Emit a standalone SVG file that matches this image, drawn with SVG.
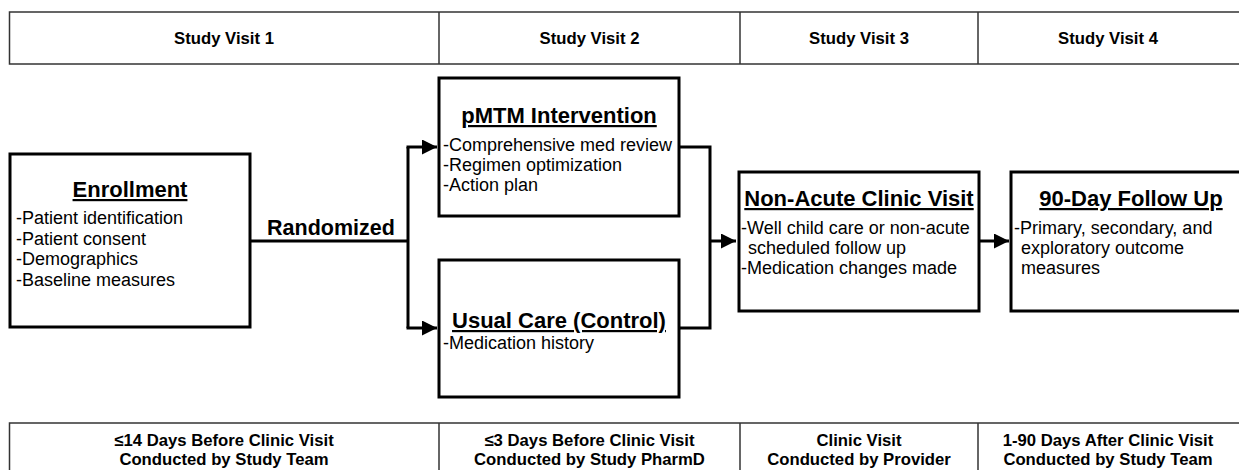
<svg xmlns="http://www.w3.org/2000/svg" width="1239" height="470" viewBox="0 0 1239 470">
<style>
.tbl{fill:#fff;stroke:#333;stroke-width:1.5}
.hdr{font-family:"Liberation Sans",Arial,sans-serif;font-weight:bold;font-size:16.7px;fill:#000;text-anchor:middle}
.box{fill:#fff;stroke:#000;stroke-width:3}
.ttl{font-family:"Liberation Sans",Arial,sans-serif;font-weight:bold;font-size:22px;fill:#000;text-anchor:middle;text-decoration:underline}
.body{font-family:"Liberation Sans",Arial,sans-serif;font-size:18px;fill:#000}
.conn{fill:none;stroke:#000;stroke-width:3}
.lbl{font-family:"Liberation Sans",Arial,sans-serif;font-weight:bold;font-size:21.5px;fill:#000;text-anchor:middle}
</style>
<defs>
<marker id="ah" viewBox="0 0 10 10" refX="10" refY="5" markerWidth="6.5" markerHeight="5" markerUnits="strokeWidth" orient="auto">
<path d="M0,0 L10,5 L0,10 Z" fill="#000"/>
</marker>
</defs>

<g id="header">
<rect class="tbl" x="9.5" y="12" width="1235" height="52"/>
<line class="tbl" x1="439" y1="12" x2="439" y2="64"/>
<line class="tbl" x1="740" y1="12" x2="740" y2="64"/>
<line class="tbl" x1="978" y1="12" x2="978" y2="64"/>
<text class="hdr" x="224" y="44">Study Visit 1</text>
<text class="hdr" x="589.5" y="44">Study Visit 2</text>
<text class="hdr" x="859" y="44">Study Visit 3</text>
<text class="hdr" x="1108" y="44">Study Visit 4</text>
</g>

<g id="footer">
<rect class="tbl" x="9.5" y="423" width="1235" height="60"/>
<line class="tbl" x1="439" y1="423" x2="439" y2="470"/>
<line class="tbl" x1="740" y1="423" x2="740" y2="470"/>
<line class="tbl" x1="978" y1="423" x2="978" y2="470"/>
<text class="hdr" x="224" y="446">≤14 Days Before Clinic Visit</text>
<text class="hdr" x="224" y="465">Conducted by Study Team</text>
<text class="hdr" x="589.5" y="446">≤3 Days Before Clinic Visit</text>
<text class="hdr" x="589.5" y="465">Conducted by Study PharmD</text>
<text class="hdr" x="859" y="446">Clinic Visit</text>
<text class="hdr" x="859" y="465">Conducted by Provider</text>
<text class="hdr" x="1108" y="446">1-90 Days After Clinic Visit</text>
<text class="hdr" x="1108" y="465">Conducted by Study Team</text>
</g>

<g id="connectors">
<path class="conn" d="M250,241 H408"/>
<path class="conn" d="M408,147 V328"/>
<path class="conn" d="M406.5,147 H437" marker-end="url(#ah)"/>
<path class="conn" d="M406.5,328 H437" marker-end="url(#ah)"/>
<path class="conn" d="M679,147 H710 V328 H679"/>
<path class="conn" d="M710,241 H736" marker-end="url(#ah)"/>
<path class="conn" d="M979,241 H1009" marker-end="url(#ah)"/>
<text class="lbl" x="331" y="235">Randomized</text>
</g>

<g id="enrollment">
<rect class="box" x="10" y="154" width="240" height="173"/>
<text class="ttl" x="130" y="197">Enrollment</text>
<text class="body" x="16" y="224">-Patient identification</text>
<text class="body" x="16" y="244.5">-Patient consent</text>
<text class="body" x="16" y="265">-Demographics</text>
<text class="body" x="16" y="285.5">-Baseline measures</text>
</g>

<g id="pmtm">
<rect class="box" x="439" y="78" width="240" height="138"/>
<text class="ttl" x="559" y="123">pMTM Intervention</text>
<text class="body" x="443" y="151">-Comprehensive med review</text>
<text class="body" x="443" y="171">-Regimen optimization</text>
<text class="body" x="443" y="191">-Action plan</text>
</g>

<g id="usualcare">
<rect class="box" x="439" y="260" width="240" height="137"/>
<text class="ttl" x="559" y="328">Usual Care (Control)</text>
<text class="body" x="443" y="349">-Medication history</text>
</g>

<g id="nonacute">
<rect class="box" x="739" y="172" width="240" height="139"/>
<text class="ttl" x="859" y="206">Non-Acute Clinic Visit</text>
<text class="body" x="741" y="234">-Well child care or non-acute</text>
<text class="body" x="748" y="254">scheduled follow up</text>
<text class="body" x="741" y="274">-Medication changes made</text>
</g>

<g id="followup">
<rect class="box" x="1011" y="172" width="240" height="139"/>
<text class="ttl" x="1131" y="206">90-Day Follow Up</text>
<text class="body" x="1014" y="234">-Primary, secondary, and</text>
<text class="body" x="1021" y="254">exploratory outcome</text>
<text class="body" x="1021" y="274">measures</text>
</g>
</svg>
